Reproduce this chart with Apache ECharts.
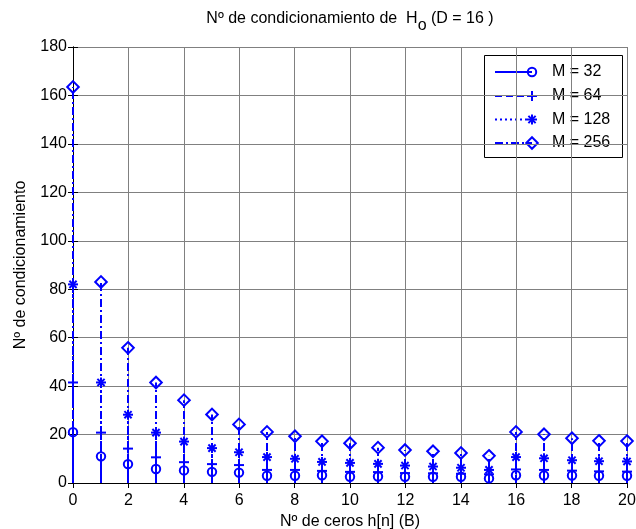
<!DOCTYPE html>
<html>
<head>
<meta charset="utf-8">
<script src="https://cdn.jsdelivr.net/npm/echarts@6/dist/echarts.min.js"></script>
<style>
  html, body { margin: 0; padding: 0; background: #fff; }
  #chart { width: 636px; height: 529px; }
</style>
</head>
<body>
<div id="chart"></div>
<script>
// Number of zeros B in h[n]
const zeros = [0, 1, 2, 3, 4, 5, 6, 7, 8, 9, 10, 11, 12, 13, 14, 15, 16, 17, 18, 19, 20];

// Condition number of H_o for each M (D = 16)
const condM32  = [21, 11, 7.8, 5.8, 5.2, 4.6, 4.3, 3.0, 3.0, 3.2, 2.6, 2.7, 2.6, 2.6, 2.6, 1.9, 3.2, 3.1, 3.1, 3.0, 3.0];
const condM64  = [41.5, 20.8, 14.2, 10.6, 8.6, 7.8, 7.4, 5.4, 5.4, 5.0, 4.6, 4.5, 4.1, 4.0, 3.8, 3.6, 5.6, 5.4, 5.1, 4.8, 4.7];
const condM128 = [82, 41.5, 28.2, 20.8, 17.1, 14.4, 12.7, 10.7, 10.0, 8.7, 8.3, 7.9, 7.2, 6.8, 6.3, 5.4, 10.7, 10.2, 9.4, 9.0, 8.9];
const condM256 = [163.5, 83, 55.8, 41.5, 34.2, 28.3, 24.2, 21.1, 19.3, 17.2, 16.4, 14.6, 13.6, 13.1, 12.4, 11.2, 21.1, 20.1, 18.5, 17.4, 17.3];

const seriesNames = ['M = 32', 'M = 64', 'M = 128', 'M = 256'];
const xTicks = { min: 0, max: 20, step: 2 };
const yTicks = { min: 0, max: 180, step: 20 };

const BLUE = '#0000ff';
const FONT = '"Liberation Sans", Arial, Helvetica, sans-serif';

// stem styles: line dash pattern + marker kind
const styles = [
  { dash: null,          marker: 'circle'  },
  { dash: [7, 4],        marker: 'plus'    },
  { dash: [2, 3],        marker: 'star'    },
  { dash: [8, 3, 2, 3],  marker: 'diamond' }
];

// marker drawing at pixel position (cx, cy)
function markerShape(kind, cx, cy) {
  const st = { stroke: BLUE, lineWidth: 2, fill: null };
  if (kind === 'circle') {
    return { type: 'circle', shape: { cx: cx, cy: cy, r: 4.2 }, style: Object.assign({}, st, { fill: 'none' }) };
  }
  if (kind === 'diamond') {
    const h = 5.8;
    return { type: 'polygon', shape: { points: [[cx, cy - h], [cx + h, cy], [cx, cy + h], [cx - h, cy]] },
             style: Object.assign({}, st, { fill: 'none' }) };
  }
  if (kind === 'plus') {
    const h = 5;
    return { type: 'group', children: [
      { type: 'line', shape: { x1: cx - h, y1: cy, x2: cx + h, y2: cy }, style: st },
      { type: 'line', shape: { x1: cx, y1: cy - h, x2: cx, y2: cy + h }, style: st }
    ] };
  }
  // asterisk
  const h = 5, d = 3.6;
  return { type: 'group', children: [
    { type: 'line', shape: { x1: cx - h, y1: cy, x2: cx + h, y2: cy }, style: st },
    { type: 'line', shape: { x1: cx, y1: cy - h, x2: cx, y2: cy + h }, style: st },
    { type: 'line', shape: { x1: cx - d, y1: cy - d, x2: cx + d, y2: cy + d }, style: st },
    { type: 'line', shape: { x1: cx - d, y1: cy + d, x2: cx + d, y2: cy - d }, style: st }
  ] };
}

function stemSeries(name, values, style, z) {
  return {
    name: name,
    type: 'custom',
    z: z,
    data: zeros.map((x, i) => [x, values[i]]),
    renderItem: function (params, api) {
      const x = api.value(0), v = api.value(1);
      const base = api.coord([x, 0]);
      const top = api.coord([x, v]);
      // snap the stem to whole pixels so 2px strokes stay crisp
      const sx = Math.round(base[0]);
      return {
        type: 'group',
        children: [
          { type: 'line', shape: { x1: sx, y1: base[1], x2: sx, y2: top[1] },
            style: { stroke: BLUE, lineWidth: 2, lineDash: style.dash || null } },
          markerShape(style.marker, sx, top[1])
        ]
      };
    }
  };
}

const chart = echarts.init(document.getElementById('chart'), null, { renderer: 'canvas' });

const axisLineStyle = { show: true, lineStyle: { color: '#000', width: 1 } };
const tickStyle = { show: true, inside: true, length: 5, lineStyle: { color: '#000' } };
const labelFont = { color: '#000', fontSize: 16, fontFamily: FONT };

// legend box
const legendX = 484, legendY = 55, legendW = 138, legendH = 102;
const rowY = [72, 96, 119.5, 143];
const legendChildren = [
  { type: 'rect', shape: { x: legendX + 0.5, y: legendY + 0.5, width: legendW, height: legendH },
    style: { fill: '#fff', stroke: '#000', lineWidth: 1 } }
];
seriesNames.forEach((n, i) => {
  legendChildren.push({ type: 'line', shape: { x1: 495, y1: rowY[i], x2: 532, y2: rowY[i] },
    style: { stroke: BLUE, lineWidth: 2, lineDash: styles[i].dash || null } });
  legendChildren.push(markerShape(styles[i].marker, 532, rowY[i]));
  legendChildren.push({ type: 'text', x: 552, y: rowY[i],
    style: { text: n, fill: '#000', font: '16px ' + FONT, verticalAlign: 'middle', align: 'left' } });
});

chart.setOption({
  animation: false,
  backgroundColor: '#fff',
  grid: { left: 73, right: 9, top: 47, bottom: 46, containLabel: false, outerBoundsMode: 'none' },
  xAxis: [
    {
      type: 'value', min: xTicks.min, max: xTicks.max, interval: xTicks.step,
      name: 'Nº de ceros h[n] (B)', nameLocation: 'middle', nameGap: 30,
      nameTextStyle: labelFont,
      axisLine: axisLineStyle, axisTick: tickStyle,
      axisLabel: Object.assign({ margin: 10 }, labelFont),
      splitLine: { show: true, lineStyle: { color: '#808080', width: 1 } }
    },
    {
      type: 'value', position: 'top', min: xTicks.min, max: xTicks.max, interval: xTicks.step,
      axisLine: axisLineStyle, axisTick: tickStyle,
      axisLabel: { show: false }, splitLine: { show: false }
    }
  ],
  yAxis: [
    {
      type: 'value', min: yTicks.min, max: yTicks.max, interval: yTicks.step,
      name: 'Nº de condicionamiento', nameLocation: 'middle', nameGap: 44, nameRotate: 90,
      nameTextStyle: labelFont,
      axisLine: axisLineStyle, axisTick: tickStyle,
      axisLabel: Object.assign({ margin: 6 }, labelFont),
      splitLine: { show: true, lineStyle: { color: '#808080', width: 1 } }
    },
    {
      type: 'value', position: 'right', min: yTicks.min, max: yTicks.max, interval: yTicks.step,
      axisLine: axisLineStyle, axisTick: tickStyle,
      axisLabel: { show: false }, splitLine: { show: false }
    }
  ],
  graphic: [
    {
      type: 'text', x: 350, y: 19, z: 100,
      style: {
        text: '{a|Nº de condicionamiento de  H}{s|o}{a| (D = 16 )}',
        align: 'center', verticalAlign: 'middle',
        rich: {
          a: { fontSize: 16, fontFamily: FONT, color: '#000', lineHeight: 17 },
          s: { fontSize: 16, fontFamily: FONT, color: '#000', lineHeight: 17, padding: [13, 0, 0, 0] }
        }
      }
    },
    { type: 'group', z: 100, children: legendChildren }
  ],
  series: [
    stemSeries(seriesNames[0], condM32, styles[0], 2),
    stemSeries(seriesNames[1], condM64, styles[1], 3),
    stemSeries(seriesNames[2], condM128, styles[2], 4),
    stemSeries(seriesNames[3], condM256, styles[3], 5)
  ]
});
</script>
</body>
</html>
